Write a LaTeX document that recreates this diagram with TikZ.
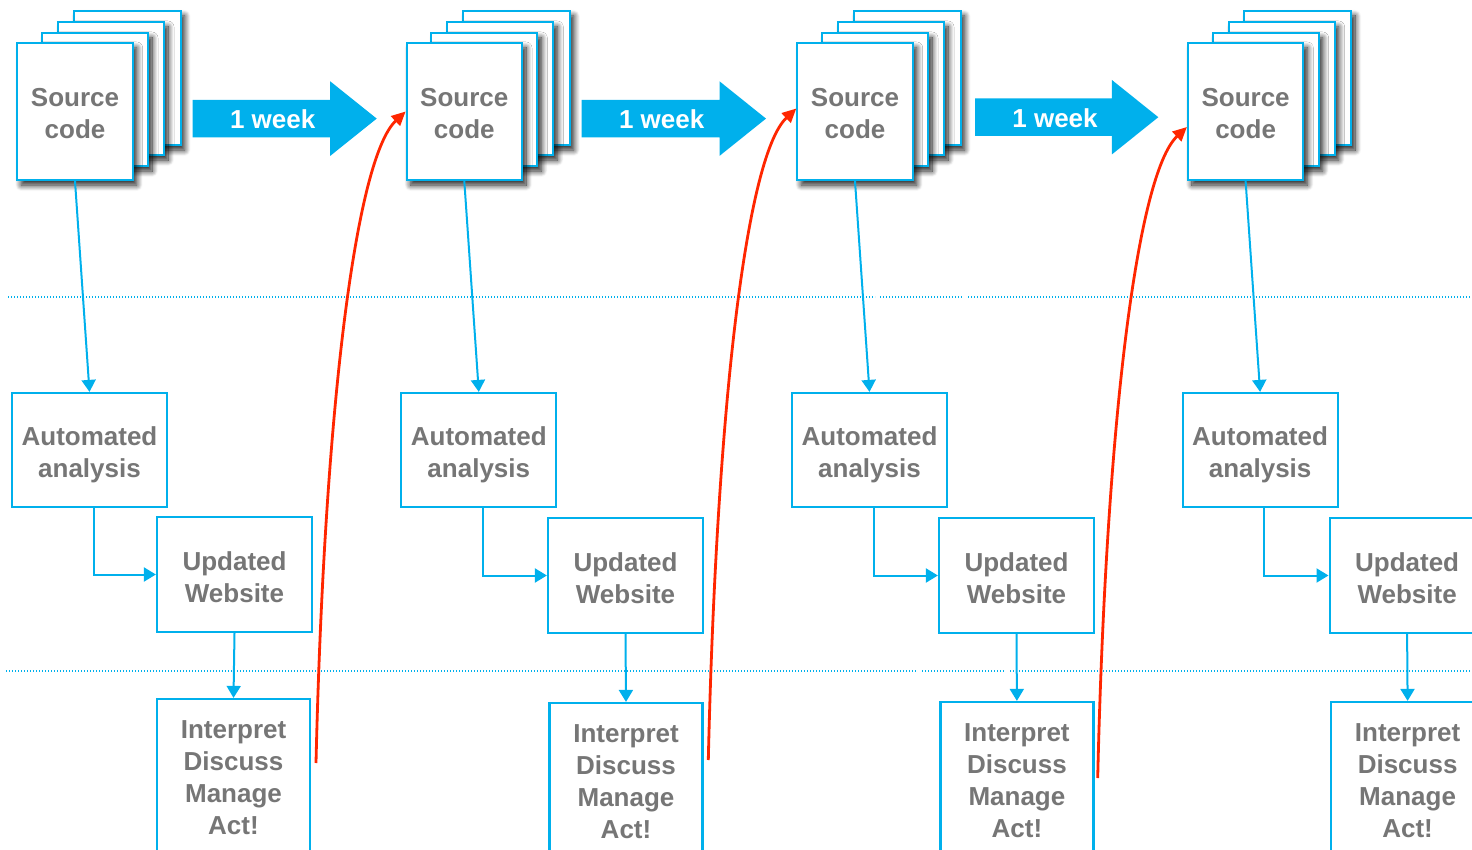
\documentclass[tikz,border=0pt]{standalone}
\usepackage{fontspec}
\setmainfont{Liberation Sans}
\usetikzlibrary{arrows.meta,shadows.blur}
\definecolor{flowblue}{RGB}{0,176,236}
\definecolor{loopred}{RGB}{255,38,0}
\definecolor{labelgray}{RGB}{118,118,118}

\begin{document}
\begin{tikzpicture}[x=1pt,y=-1pt,
  every node/.style={font=\fontsize{26}{32}\selectfont\bfseries, text=labelgray,
    align=center, inner sep=0pt},
  page/.style={draw=flowblue, line width=2pt, fill=white,
    blur shadow={shadow xshift=4pt, shadow yshift=-5pt, shadow blur radius=6pt,
      shadow blur steps=12, shadow opacity=90}},
  stepbox/.style={draw=flowblue, line width=2.2pt, fill=white},
  flow/.style={draw=flowblue, line width=2pt, -{Triangle[width=14pt,length=12pt]}},
  loop/.style={draw=loopred, line width=2.8pt, -{Triangle[width=13pt,length=14pt]}},
  sep/.style={draw=flowblue, line width=1.4pt, dash pattern=on 1.4pt off 1.6pt},
]
\useasboundingbox (0,0) rectangle (1472,850);
\clip (0,0) rectangle (1472,850);

% dotted separators between the three stages
\draw[sep] (8,297) -- (875,297);
\draw[sep] (880,297) -- (963,297);
\draw[sep] (968,297) -- (1472,297);
\draw[sep] (6,671) -- (917,671);
\draw[sep] (922,671) -- (1004,671);
\draw[sep] (1010,671) -- (1472,671);

% one column per week
\foreach \i/\ox/\wx/\wy/\ax/\ay in {
    1/0/234.5/574.5/233.5/777,
    2/389.3/236.2/575.5/236.7/781,
    3/780/236.5/575.5/236.9/780,
    4/1170.6/236.5/575.5/237/780}{
  % stack of source pages
  \node[page, minimum width=107pt, minimum height=134pt] (pgd\i) at (\ox+127,78) {};
  \node[page, minimum width=106pt, minimum height=133pt] (pgc\i) at (\ox+111,88.5) {};
  \node[page, minimum width=106pt, minimum height=133pt] (pgb\i) at (\ox+95,99.5) {};
  \node[page, minimum width=115.4pt, minimum height=137pt,
    label={[yshift=-2pt]center:Source\\code}] (src\i) at (\ox+75,111.5) {};
  % processing steps
  \node[stepbox, minimum width=155pt, minimum height=114pt,
    label={[yshift=-5pt]center:Automated\\analysis}] (ana\i) at (\ox+89.5,450) {};
  \node[stepbox, minimum width=155pt, minimum height=115pt,
    label={[yshift=-3pt]center:Updated\\Website}] (web\i) at (\ox+\wx,\wy) {};
  \node[stepbox, minimum width=153pt, minimum height=156pt,
    label={[yshift=-1pt]center:Interpret\\Discuss\\Manage\\Act!}] (act\i) at (\ox+\ax,\ay) {};
  % connectors
  \draw[flow] (src\i.south) -- (ana\i.north);
  \draw[flow] ([xshift=4pt]ana\i.south) |- (web\i.west);
  \draw[flow] (web\i.south) -- (act\i.north);
}

% block arrows: one week between releases
\foreach \s/\t/\yc/\n in {192.7/376.7/118.6/1, 581.7/766/118.6/2, 975/1158.3/117.2/3}{
  \fill[flowblue] (\s,\yc-18.7) -- (\t-46.5,\yc-18.7) -- (\t-46.5,\yc-37.3) -- (\t,\yc)
    -- (\t-46.5,\yc+37.3) -- (\t-46.5,\yc+18.7) -- (\s,\yc+18.7) -- cycle;
  \node[text=white] (wk\n) at ({\s+80},{\yc+1}) {1 week};
}

% feedback loops from acting back to the next week's code
\coordinate (rs1) at (316,763);
\coordinate (rs2) at (708.3,760);
\coordinate (rs3) at (1097.7,778);
\draw[loop] (rs1) .. controls +(8,-343) and +(-51,48) .. (src2.west);
\draw[loop] (rs2) .. controls +(8,-343) and +(-51,48) .. ([yshift=3pt]src3.west);
\draw[loop] (rs3) .. controls +(8,-343) and +(-51,48) .. ([yshift=-15.5pt]src4.west);
\end{tikzpicture}
\end{document}
